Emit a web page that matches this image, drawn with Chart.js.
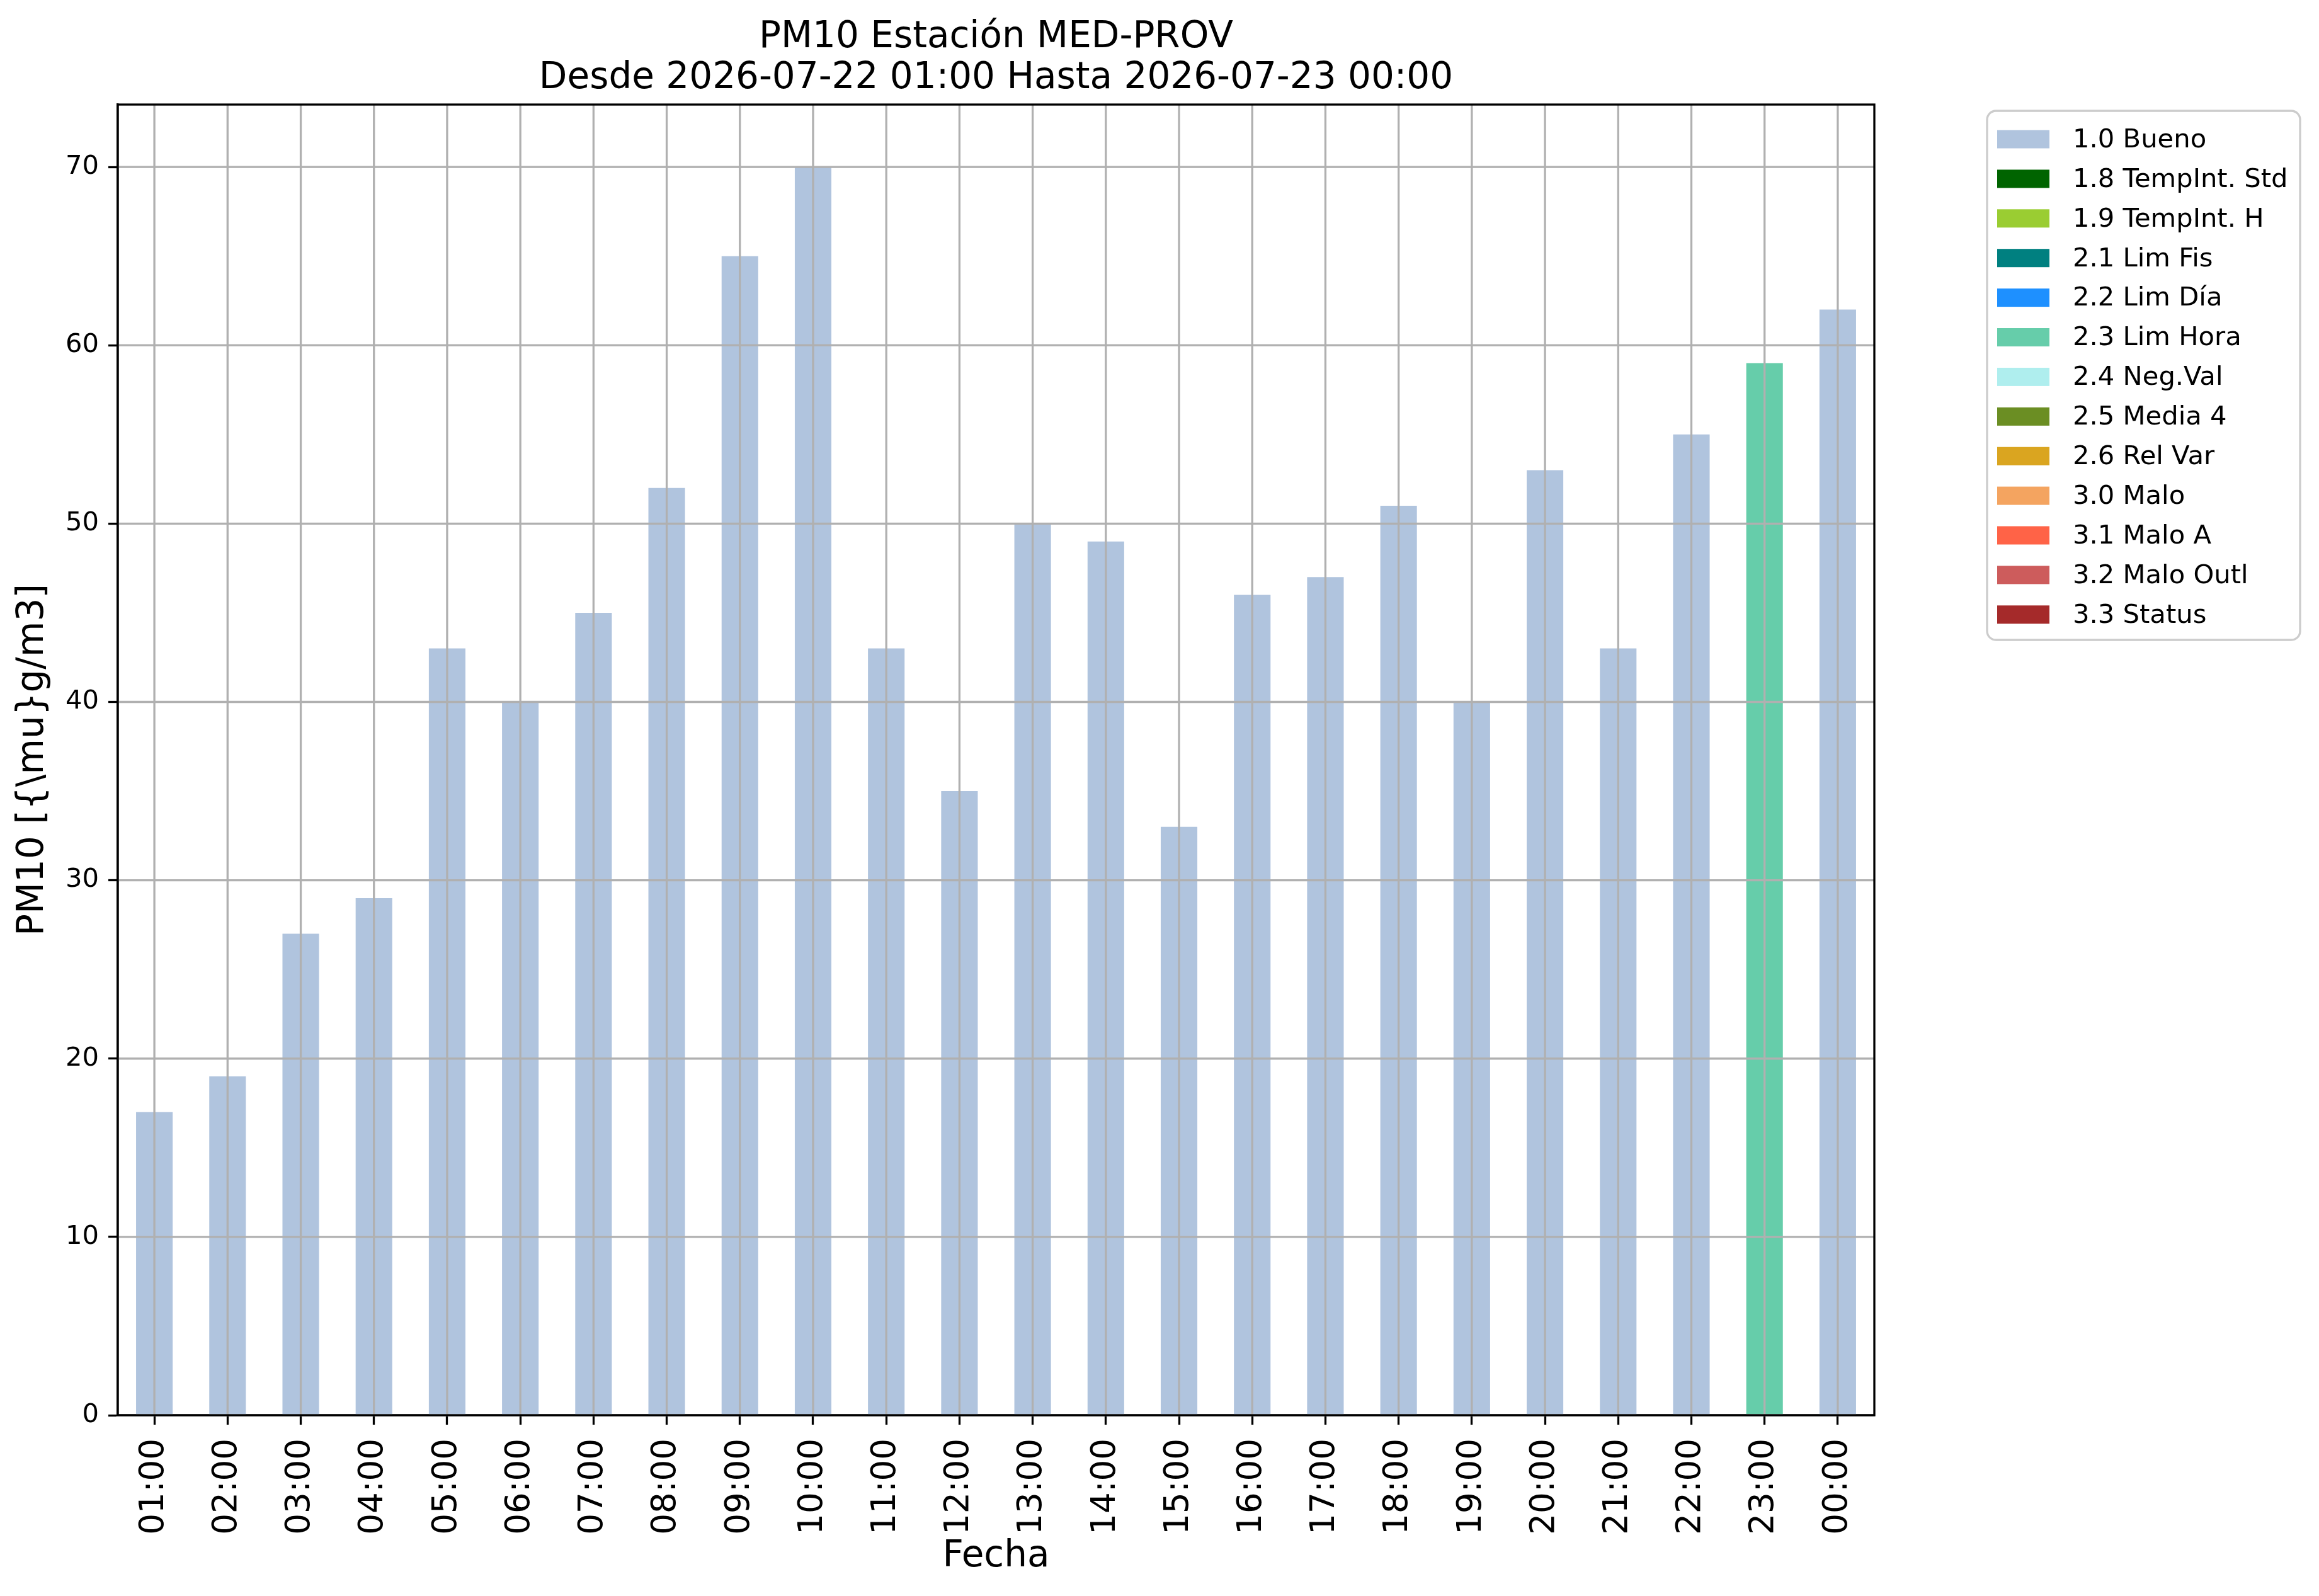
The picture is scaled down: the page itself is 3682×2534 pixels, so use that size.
<!DOCTYPE html>
<html>
<head>
<meta charset="utf-8">
<script src="https://cdn.jsdelivr.net/npm/chart.js@4.4.1/dist/chart.umd.min.js"></script>
<style>
  html, body { margin: 0; padding: 0; background: #fff; }
  #wrap { width: 3682px; height: 2534px; }
</style>
</head>
<body>
<div id="wrap"><canvas id="pm10Chart" width="3682" height="2534"></canvas></div>
<script>
// Hours on the x axis
const hours = ["01:00", "02:00", "03:00", "04:00", "05:00", "06:00", "07:00", "08:00",
  "09:00", "10:00", "11:00", "12:00", "13:00", "14:00", "15:00", "16:00",
  "17:00", "18:00", "19:00", "20:00", "21:00", "22:00", "23:00", "00:00"];

// PM10 values, ug/m3
const pm10 = [17, 19, 27, 29, 43, 40, 45, 52, 65, 70, 43, 35,
  50, 49, 33, 46, 47, 51, 40, 53, 43, 55, 59, 62];

// Validation flag for each hour
const hourFlags = ["1.0", "1.0", "1.0", "1.0", "1.0", "1.0", "1.0", "1.0",
  "1.0", "1.0", "1.0", "1.0", "1.0", "1.0", "1.0", "1.0",
  "1.0", "1.0", "1.0", "1.0", "1.0", "1.0", "2.3", "1.0"];

// Flag codes, legend names and colours
const flagCodes = ["1.0", "1.8", "1.9", "2.1", "2.2", "2.3", "2.4", "2.5", "2.6", "3.0", "3.1", "3.2", "3.3"];
const flagNames = ["Bueno", "TempInt. Std", "TempInt. H", "Lim Fis", "Lim Día", "Lim Hora",
  "Neg.Val", "Media 4", "Rel Var", "Malo", "Malo A", "Malo Outl", "Status"];
const flagColors = ["#b0c4de", "#006400", "#9acd32", "#008080", "#1e90ff", "#66cdaa",
  "#afeeee", "#6b8e23", "#daa520", "#f4a460", "#ff6347", "#cd5c5c", "#a52a2a"];

const yTicks = [0, 10, 20, 30, 40, 50, 60, 70];

const FONT = "'DejaVu Sans', 'Liberation Sans', sans-serif";
Chart.defaults.font.family = FONT;
Chart.defaults.color = "#000";

const datasets = flagCodes.map((code, k) => ({
  label: code + " " + flagNames[k],
  data: pm10.map((v, i) => (hourFlags[i] === code ? v : null)),
  backgroundColor: flagColors[k],
  borderWidth: 0,
  barPercentage: 0.5,
  categoryPercentage: 1.0,
}));

// grid on top of the bars, full frame, titles and legend box
const overlay = {
  id: "overlay",
  afterDatasetsDraw(chart) {
    const { ctx, chartArea: a, scales: { x, y } } = chart;
    ctx.save();
    ctx.strokeStyle = "#b0b0b0";
    ctx.lineWidth = 3.3;
    ctx.beginPath();
    x.ticks.forEach((t, i) => {
      const px = x.getPixelForTick(i);
      ctx.moveTo(px, a.top);
      ctx.lineTo(px, a.bottom);
    });
    y.ticks.forEach((t) => {
      const py = y.getPixelForValue(t.value);
      ctx.moveTo(a.left, py);
      ctx.lineTo(a.right, py);
    });
    ctx.stroke();
    ctx.strokeStyle = "#000";
    ctx.strokeRect(a.left, a.top, a.right - a.left, a.bottom - a.top);
    ctx.restore();
  },
  afterDraw(chart) {
    const { ctx, chartArea: a } = chart;
    ctx.save();
    const cx = (a.left + a.right) / 2;
    ctx.fillStyle = "#000";
    ctx.font = "58px " + FONT;
    ctx.textAlign = "center";
    ctx.textBaseline = "alphabetic";
    ctx.fillText("PM10 Estación MED-PROV", cx, 75);
    ctx.fillText("Desde 2026-07-22 01:00 Hasta 2026-07-23 00:00", cx, 140);

    // legend
    const bx = 3155, by = 176, bw = 497, bh = 840, r = 14;
    ctx.fillStyle = "rgba(255,255,255,0.8)";
    ctx.strokeStyle = "#cccccc";
    ctx.lineWidth = 3.3;
    ctx.beginPath();
    ctx.roundRect(bx, by, bw, bh, r);
    ctx.fill();
    ctx.stroke();
    ctx.font = "41.7px " + FONT;
    ctx.textAlign = "left";
    ctx.textBaseline = "middle";
    chart.data.datasets.forEach((ds, i) => {
      const cy = 221 + i * 62.9;
      ctx.fillStyle = ds.backgroundColor;
      ctx.fillRect(3171, cy - 14.5, 83, 29);
      ctx.fillStyle = "#000";
      ctx.fillText(ds.label, 3291, cy + 2);
    });
    ctx.restore();
  },
};

new Chart(document.getElementById("pm10Chart"), {
  type: "bar",
  data: { labels: hours, datasets },
  options: {
    responsive: false,
    devicePixelRatio: 1,
    animation: false,
    layout: { padding: { left: 0, top: 166, right: 706, bottom: 0 } },
    plugins: {
      legend: { display: false },
      title: { display: false },
      tooltip: { enabled: false },
    },
    scales: {
      x: {
        stacked: true,
        offset: true,
        afterFit: (s) => { s.height = 287; },
        grid: { display: true, offset: false, drawOnChartArea: false, drawTicks: true, tickLength: 15, tickWidth: 3.3, tickColor: "#000" },
        border: { display: true, color: "#000", width: 3.3 },
        ticks: { color: "#000", font: { size: 53 }, minRotation: 90, maxRotation: 90, padding: 22, autoSkip: false },
        title: { display: true, text: "Fecha", color: "#000", font: { size: 58 }, padding: { top: 0, bottom: 27 } },
      },
      y: {
        stacked: true,
        min: 0,
        max: 73.5,
        afterFit: (s) => { s.width = 187; },
        afterBuildTicks: (s) => { s.ticks = yTicks.map((v) => ({ value: v })); },
        grid: { display: true, drawOnChartArea: false, drawTicks: true, tickLength: 15, tickWidth: 3.3, tickColor: "#000" },
        border: { display: true, color: "#000", width: 3.3 },
        ticks: { color: "#000", font: { size: 41.7 }, padding: 15 },
        title: { display: true, text: "PM10 [{\\mu}g/m3]", color: "#000", font: { size: 58 }, padding: { top: 18, bottom: 0 } },
      },
    },
  },
  plugins: [overlay],
});
</script>
</body>
</html>
